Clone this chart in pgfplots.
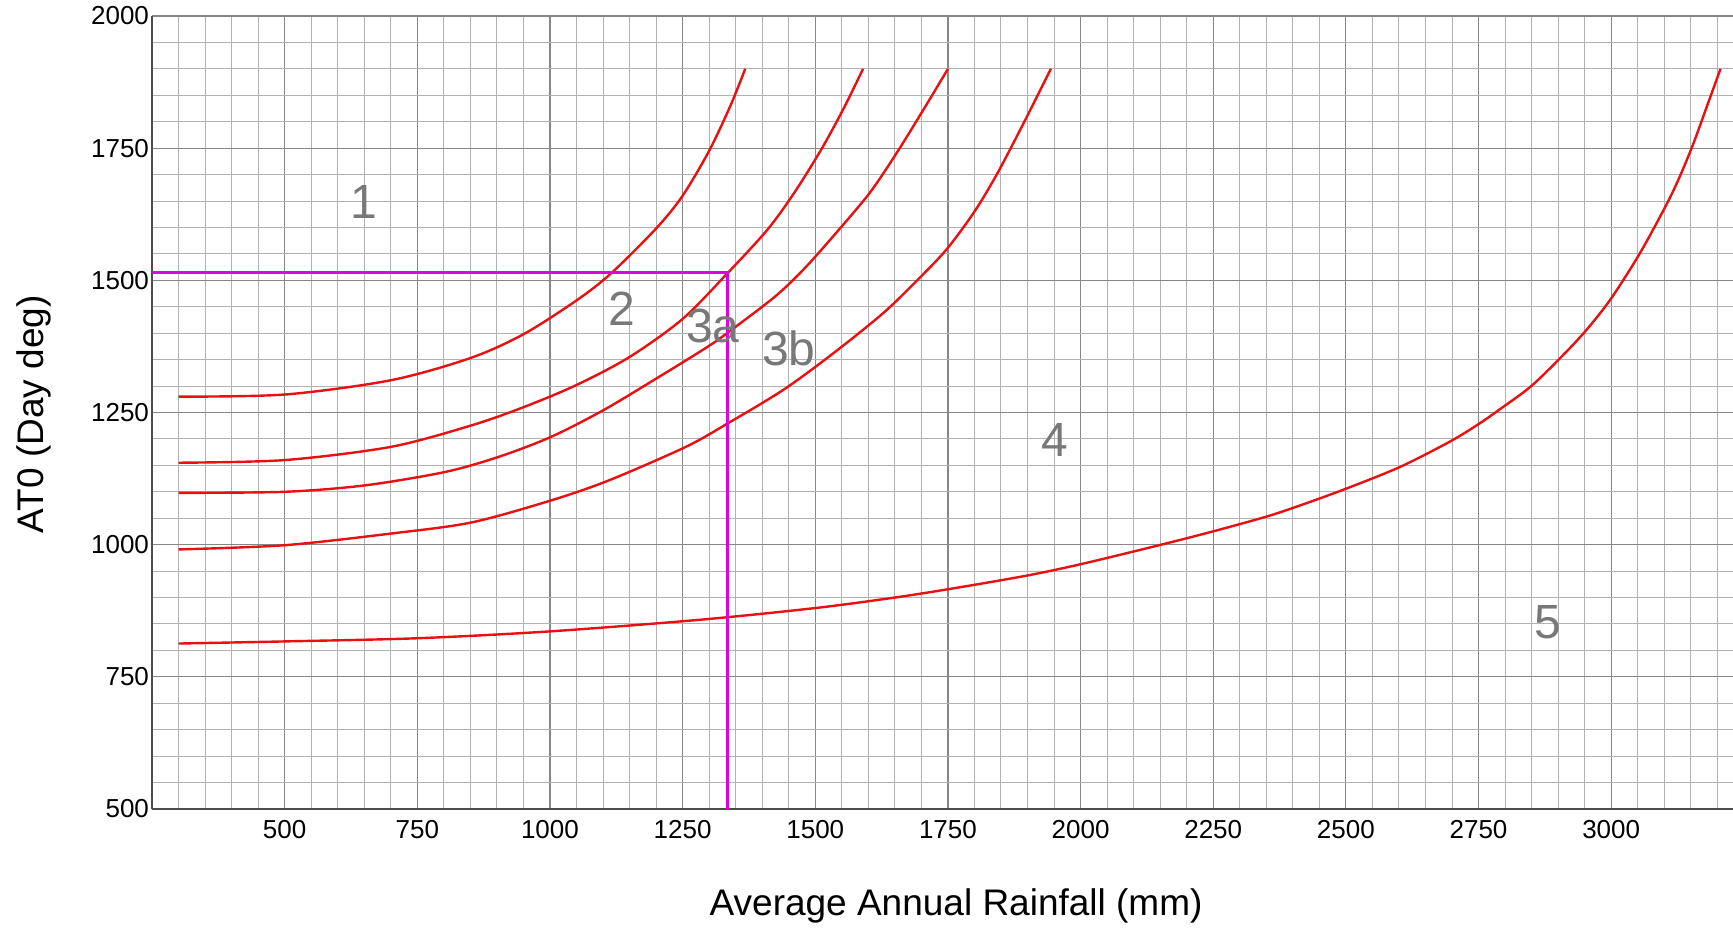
\documentclass[border=0pt]{standalone}
\usepackage{fontspec}
\setmainfont{Liberation Sans}
\usepackage{pgfplots}
\pgfplotsset{compat=1.18}

\definecolor{curvered}{RGB}{232,16,16}
\definecolor{limitmag}{RGB}{222,0,222}
\definecolor{zonegray}{RGB}{120,120,120}
\definecolor{majgrid}{RGB}{135,135,135}
\definecolor{mingrid}{RGB}{178,178,178}

% zone boundaries
\pgfplotstableread{
x y
300 1280
500 1284
700 1311
850 1353
950 1398
1050 1462
1115 1513
1200 1598
1250 1660
1300 1745
1340 1830
1368 1900
}\zoneone

\pgfplotstableread{
x y
300 1155
500 1160
700 1185
850 1225
950 1260
1050 1302
1150 1355
1250 1427
1336 1515
1410 1596
1460 1665
1511 1747
1554 1826
1590 1900
}\zonetwo

\pgfplotstableread{
x y
300 1098
500 1100
650 1112
800 1137
900 1165
1000 1203
1100 1254
1200 1314
1292 1371
1335 1401
1425 1470
1483 1526
1555 1608
1606 1670
1656 1745
1707 1828
1750 1900
}\zonethree

\pgfplotstableread{
x y
300 991
500 999
700 1021
852 1042
1003 1084
1112 1122
1256 1185
1336 1230
1440 1293
1534 1362
1628 1438
1691 1499
1747 1558
1800 1630
1843 1702
1894 1800
1944 1900
}\zonefour

\pgfplotstableread{
x y
300 813
500 817
750 823
1000 836
1283 858
1499 880
1643 899
1752 916
1896 941
2000 963
2148 999
2249 1025
2350 1053
2413 1074
2498 1105
2602 1147
2696 1195
2750 1228
2790 1256
2847 1298
2897 1346
2948 1400
2998 1463
3054 1551
3105 1645
3130 1698
3155 1759
3180 1828
3206 1900
}\zonefive

\begin{document}
\begin{tikzpicture}
\path[use as bounding box] (-76pt,-59.5pt) rectangle (790.5pt,404.5pt);
\begin{axis}[
  scale only axis,
  width=790.5pt, height=396.5pt,
  xmin=250, xmax=3229.6, ymin=500, ymax=2000,
  axis x line*=bottom, axis y line*=left,
  axis line style={draw=black!70, line width=0.6pt},
  xtick={500,750,...,3000},
  ytick={500,750,...,2000},
  minor xtick={250,300,...,3250},
  minor ytick={500,550,...,2000},
  major tick length=0pt, minor tick length=0pt,
  grid=both,
  major grid style={draw=majgrid, line width=0.6pt},
  minor grid style={draw=mingrid, line width=0.5pt},
  /pgf/number format/assume math mode=true,
  /pgf/number format/1000 sep={},
  tick label style={font=\fontsize{13}{13}\selectfont, text=black},
  xticklabel style={yshift=-2pt},
  yticklabel style={xshift=2pt},
  xlabel={Average Annual Rainfall (mm)},
  ylabel={AT0 (Day deg)},
  label style={font=\fontsize{18.5}{18.5}\selectfont},
  xlabel style={at={([yshift=-48.5pt]axis description cs:0.5086,0)}, anchor=center},
  ylabel style={at={([xshift=-59pt]axis description cs:0,0.498)}, anchor=center},
  clip=true,
]
\addplot[curvered, line width=1.2pt, smooth, no markers] table[x=x,y=y] {\zoneone};
\addplot[curvered, line width=1.2pt, smooth, no markers] table[x=x,y=y] {\zonetwo};
\addplot[curvered, line width=1.2pt, smooth, no markers] table[x=x,y=y] {\zonethree};
\addplot[curvered, line width=1.2pt, smooth, no markers] table[x=x,y=y] {\zonefour};
\addplot[curvered, line width=1.2pt, smooth, no markers] table[x=x,y=y] {\zonefive};
\addplot[limitmag, line width=1.5pt, no markers] coordinates {(250,1515) (1335,1515) (1335,500)};

\begin{scope}[every node/.style={font=\fontsize{24}{24}\selectfont, text=zonegray}]
\node at (axis cs:650,1648) {1};
\node at (axis cs:1136,1446) {2};
\node at (axis cs:1307,1414) {3a};
\node at (axis cs:1450,1372) {3b};
\node at (axis cs:1952,1198) {4};
\node at (axis cs:2881,854) {5};
\end{scope}
\end{axis}
\end{tikzpicture}
\end{document}
